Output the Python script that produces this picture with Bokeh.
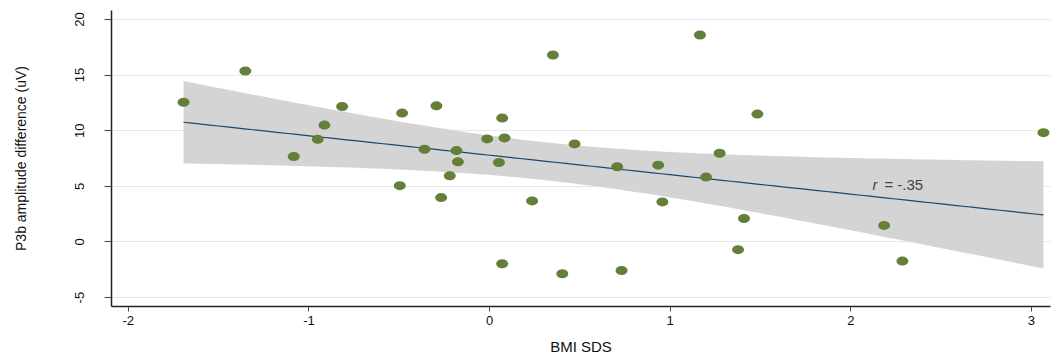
import numpy as np
from bokeh.plotting import figure
from bokeh.models import Range1d, FixedTicker
from bokeh.core.properties import value
from bokeh.embed import file_html
from bokeh.resources import INLINE

# BMI SDS (x) and P3b amplitude difference in uV (y)
bmi_sds = [-1.694, -1.352, -0.816, -0.914, -0.951, -1.084, -0.484, -0.294, 0.070,
           -0.013, 0.083, -0.360, -0.183, -0.175, 0.052, -0.220, -0.497, -0.268,
           0.236, 0.351, 0.471, 0.070, 0.403, 1.165, 1.483, 3.067, 1.274, 0.707,
           0.934, 1.199, 0.957, 1.409, 2.185, 1.376, 2.286, 0.731]
p3b_diff = [12.56, 15.36, 12.17, 10.50, 9.22, 7.68, 11.58, 12.23, 11.13,
            9.26, 9.35, 8.33, 8.21, 7.20, 7.14, 5.95, 5.06, 3.99,
            3.69, 16.80, 8.81, -1.96, -2.86, 18.60, 11.49, 9.82, 7.97, 6.76,
            6.90, 5.83, 3.60, 2.11, 1.49, -0.69, -1.72, -2.56]

x_ticks = [-2, -1, 0, 1, 2, 3]
y_ticks = [-5, 0, 5, 10, 15, 20]
annotation_r = "r"
annotation_rest = "= -.35"

# linear fit with 95% confidence band of the mean
x = np.array(bmi_sds)
y = np.array(p3b_diff)
n = len(x)
b, a = np.polyfit(x, y, 1)
resid = y - (a + b * x)
s = np.sqrt(np.sum(resid ** 2) / (n - 2))
sxx = np.sum((x - x.mean()) ** 2)
xs = np.linspace(x.min(), x.max(), 100)
fit = a + b * xs
t = 2.03
half = t * s * np.sqrt(1.0 / n + (xs - x.mean()) ** 2 / sxx)

p = figure(width=1052, height=357, output_backend="svg", toolbar_location=None,
           x_range=Range1d(-2.093, 3.106), y_range=Range1d(-5.8, 20.8),
           min_border_left=111, min_border_right=2, min_border_top=10,
           min_border_bottom=49)
p.outline_line_color = None
p.background_fill_color = "white"

p.xgrid.visible = False
p.ygrid.ticker = FixedTicker(ticks=y_ticks)
p.ygrid.grid_line_color = "#e8e8e8"
p.ygrid.grid_line_width = 1

p.varea(x=xs, y1=fit - half, y2=fit + half, fill_color="#d4d4d4", fill_alpha=1)
p.line(xs, fit, line_color="#1a476f", line_width=1.2)

p.ellipse(x=bmi_sds, y=p3b_diff, width=12, height=9, width_units="screen",
          height_units="screen", fill_color="#647f38", line_color=None)

p.text(x=[2.12], y=[5.18], text=[annotation_r], text_font=value("Liberation Sans"),
       text_font_style="italic", text_font_size="15px", text_color="#444444",
       text_baseline="middle")
p.text(x=[2.12], y=[5.18], text=[annotation_rest], text_font=value("Liberation Sans"),
       text_font_size="15px", text_color="#444444", text_baseline="middle", x_offset=12)

minus_labels = {-5: "-5", -2: "-2", -1: "-1"}

ax = p.xaxis[0]
ax.ticker = FixedTicker(ticks=x_ticks)
ax.major_label_overrides = minus_labels
ax.axis_label = "BMI SDS"
ax.axis_label_text_font = "Liberation Sans"
ax.axis_label_text_font_size = "15px"
ax.axis_label_text_font_style = "normal"
ax.axis_label_text_color = "#111111"
ax.axis_label_standoff = 10
ax.major_label_text_font = "Liberation Sans"
ax.major_label_text_font_size = "13px"
ax.major_label_text_color = "#111111"
ax.major_label_standoff = 4
ax.major_tick_out = 5
ax.major_tick_in = 0
ax.minor_tick_out = 0
ax.minor_tick_in = 0
ax.axis_line_color = "#222222"
ax.axis_line_width = 1.5
ax.major_tick_line_color = "#444444"

ay = p.yaxis[0]
ay.ticker = FixedTicker(ticks=y_ticks)
ay.major_label_overrides = minus_labels
ay.axis_label = "P3b amplitude difference (uV)"
ay.axis_label_text_font = "Liberation Sans"
ay.axis_label_text_font_size = "14px"
ay.axis_label_text_font_style = "normal"
ay.axis_label_text_color = "#111111"
ay.axis_label_standoff = 44
ay.major_label_orientation = "vertical"
ay.major_label_text_font = "Liberation Sans"
ay.major_label_text_font_size = "13px"
ay.major_label_text_color = "#111111"
ay.major_label_standoff = 20
ay.major_tick_out = 7
ay.major_tick_in = 0
ay.minor_tick_out = 0
ay.minor_tick_in = 0
ay.axis_line_color = "#222222"
ay.axis_line_width = 1.5
ay.major_tick_line_color = "#444444"

open("out.html", "w").write(file_html(p, INLINE))
